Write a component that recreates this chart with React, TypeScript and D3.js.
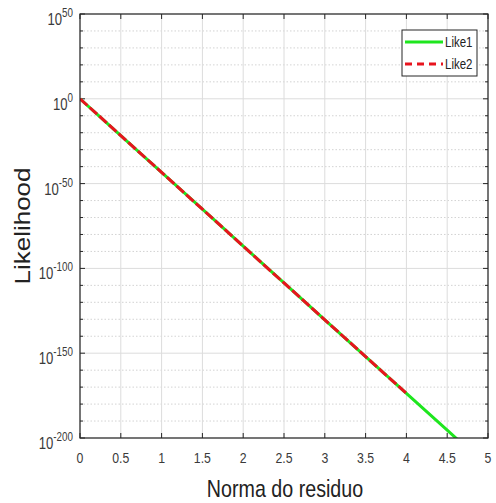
import React from "react";
import * as d3 from "d3";

// x positions (Norma do residuo)
const like1X = [0, 0.5, 1, 1.5, 2, 2.5, 3, 3.5, 4, 4.5, 5];
// log10 of likelihood
const like1Exp = [0, -21.7, -43.4, -65.1, -86.9, -108.6, -130.3, -152.0, -173.7, -195.4, -217.1];
const like2X = [0, 0.5, 1, 1.5, 2, 2.5, 3, 3.5, 4];
const like2Exp = [0, -21.7, -43.4, -65.1, -86.9, -108.6, -130.3, -152.0, -173.7];

const xTicks = [0, 0.5, 1, 1.5, 2, 2.5, 3, 3.5, 4, 4.5, 5];
const xTickLabels = ["0", "0.5", "1", "1.5", "2", "2.5", "3", "3.5", "4", "4.5", "5"];
const yMajorExp = [50, 0, -50, -100, -150, -200];
const yMinorExp = [40, 30, 20, 10, -10, -20, -30, -40, -60, -70, -80, -90, -110, -120, -130, -140, -160, -170, -180, -190];
const seriesNames = ["Like1", "Like2"];

const W = 496, H = 503;
const L = 80, R = 488, T = 14, B = 438;
const SX = 0.82;
const FONT = "'Liberation Sans', Arial, sans-serif";

export default function App() {
  const x = d3.scaleLinear().domain([0, 5]).range([L, R]);
  const y = d3.scaleLog().domain([1e-200, 1e50]).range([B, T]);
  const line = d3.line<[number, number]>().x(d => x(d[0])).y(d => y(d[1]));
  const d1 = line(like1X.map((v, i) => [v, Math.pow(10, like1Exp[i])] as [number, number])) || "";
  const d2 = line(like2X.map((v, i) => [v, Math.pow(10, like2Exp[i])] as [number, number])) || "";
  const gridCol = "#dcdcdc";
  const axisCol = "#262626";
  const textCol = "#3a3a3a";
  return (
    <svg width={W} height={H} style={{ position: "absolute", left: 0, top: 0, background: "#fff" }} fontFamily={FONT}>
      <defs>
        <clipPath id="plotclip">
          <rect x={L} y={T} width={R - L} height={B - T} />
        </clipPath>
      </defs>
      <rect x={0} y={0} width={W} height={H} fill="#fff" />
      {/* minor grid */}
      {yMinorExp.map(e => (
        <line key={"mg" + e} x1={L} x2={R} y1={y(Math.pow(10, e))} y2={y(Math.pow(10, e))} stroke="#c8c8c8" strokeWidth={0.8} strokeDasharray="1.5,2" />
      ))}
      {/* major grid */}
      {yMajorExp.map(e => (
        <line key={"yg" + e} x1={L} x2={R} y1={y(Math.pow(10, e))} y2={y(Math.pow(10, e))} stroke={gridCol} strokeWidth={1} />
      ))}
      {xTicks.map(t => (
        <line key={"xg" + t} x1={x(t)} x2={x(t)} y1={T} y2={B} stroke={gridCol} strokeWidth={1} />
      ))}
      {/* ticks */}
      {xTicks.map(t => (
        <g key={"xt" + t}>
          <line x1={x(t)} x2={x(t)} y1={B} y2={B - 5} stroke={axisCol} />
          <line x1={x(t)} x2={x(t)} y1={T} y2={T + 5} stroke={axisCol} />
        </g>
      ))}
      {yMajorExp.map(e => (
        <g key={"yt" + e}>
          <line x1={L} x2={L + 5} y1={y(Math.pow(10, e))} y2={y(Math.pow(10, e))} stroke={axisCol} />
          <line x1={R} x2={R - 5} y1={y(Math.pow(10, e))} y2={y(Math.pow(10, e))} stroke={axisCol} />
        </g>
      ))}
      {yMinorExp.map(e => (
        <g key={"ymt" + e}>
          <line x1={L} x2={L + 3} y1={y(Math.pow(10, e))} y2={y(Math.pow(10, e))} stroke={axisCol} />
          <line x1={R} x2={R - 3} y1={y(Math.pow(10, e))} y2={y(Math.pow(10, e))} stroke={axisCol} />
        </g>
      ))}
      {/* data lines */}
      <g clipPath="url(#plotclip)">
        <path d={d1} fill="none" stroke="#1ee61e" strokeWidth={3} />
        <path d={d2} fill="none" stroke="#e8141e" strokeWidth={3} strokeDasharray="10,3" />
      </g>
      {/* axes box */}
      <rect x={L} y={T} width={R - L} height={B - T} fill="none" stroke={axisCol} strokeWidth={1.2} />
      {/* x tick labels */}
      {xTicks.map((t, i) => (
        <text key={"xl" + t} transform={`translate(${x(t)},463) scale(${SX},1)`} textAnchor="middle" fontSize={15} fill={textCol}>
          {xTickLabels[i]}
        </text>
      ))}
      {/* y tick labels */}
      {yMajorExp.map(e => (
        <text key={"yl" + e} transform={`translate(73,${y(Math.pow(10, e)) + 11}) scale(${SX},1)`} textAnchor="end" fontSize={16} fill={textCol}>
          <tspan>10</tspan>
          <tspan dy={-8} fontSize={12}>{String(e)}</tspan>
        </text>
      ))}
      {/* axis labels */}
      <text transform={`translate(${(L + R) / 2 + 1},497) scale(${SX},1)`} textAnchor="middle" fontSize={24} fill="#222">
        Norma do residuo
      </text>
      <text transform={`translate(30,226) scale(${SX},1) rotate(-90)`} textAnchor="middle" fontSize={26} fill="#222">
        Likelihood
      </text>
      {/* legend */}
      <g>
        <rect x={402} y={30} width={75} height={46} fill="#fff" stroke={axisCol} strokeWidth={1} />
        <line x1={405} x2={443} y1={42} y2={42} stroke="#1ee61e" strokeWidth={3} />
        <line x1={405} x2={443} y1={64} y2={64} stroke="#e8141e" strokeWidth={3} strokeDasharray="7,5" />
        <text transform={`translate(445,47) scale(${SX},1)`} fontSize={14} fill="#222">{seriesNames[0]}</text>
        <text transform={`translate(445,69) scale(${SX},1)`} fontSize={14} fill="#222">{seriesNames[1]}</text>
      </g>
    </svg>
  );
}
